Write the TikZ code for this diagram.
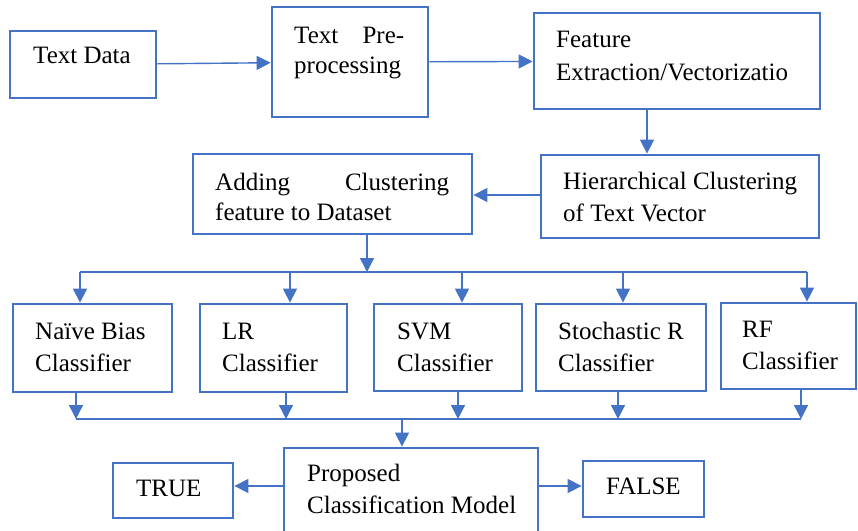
\documentclass[tikz,border=0pt]{standalone}
\usepackage{fontspec}
\setmainfont{Liberation Serif}
\usetikzlibrary{arrows.meta,fit}
\definecolor{bl}{HTML}{4472C4}
\begin{document}
\begin{tikzpicture}[x=1pt,y=-1pt,
 box/.style={draw=bl, line width=2.8pt, inner sep=0pt},
 txt/.style={anchor=base west, inner sep=0pt, align=left, font=\fontsize{25}{31.5}\selectfont},
 arr/.style={draw=bl, line width=1.4pt, -{Triangle[length=14pt,width=14pt]}},
 ln/.style={draw=bl, line width=1.4pt}]
\useasboundingbox (0,0) rectangle (858,530);
% boxes
\node[box, fit={(10,31)(156,98)}] (td) {};
\node[box, fit={(272,7)(428,117)}] (pp) {};
\node[box, fit={(534,13)(820,109)}] (fe) {};
\node[box, fit={(541,155)(819,238)}] (hc) {};
\node[box, fit={(193,154)(472,234)}] (ad) {};
\node[box, fit={(13,304)(172,392)}] (nb) {};
\node[box, fit={(200,304)(347,392)}] (lr) {};
\node[box, fit={(374,304)(522,391)}] (sv) {};
\node[box, fit={(536,304)(706,391)}] (sr) {};
\node[box, fit={(721,303)(856,389)}] (rf) {};
\node[box, fit={(284,448)(538,536)}] (pm) {};
\node[box, fit={(113,463)(233,518)}] (tr) {};
\node[box, fit={(583,461)(704,517)}] (fa) {};
% texts (base = last line)
\node[txt] (tdt) at (33,63) {Text Data};
\node[txt, font=\fontsize{25}{30}\selectfont] (ppt) at (294,73) {\makebox[110pt][s]{Text Pre-}\\processing};
\node[txt, font=\fontsize{25}{33}\selectfont] (fet) at (556,80) {Feature\\Extraction/Vectorizatio};
\node[txt] (hct) at (563,221) {Hierarchical Clustering\\of Text Vector};
\node[txt, font=\fontsize{25}{30}\selectfont] (adt) at (215,220) {\makebox[234pt][s]{Adding Clustering}\\feature to Dataset};
\node[txt, font=\fontsize{25}{32}\selectfont] (nbt) at (35,371) {Naïve Bias\\Classifier};
\node[txt, font=\fontsize{25}{32}\selectfont] (lrt) at (222,371) {LR\\Classifier};
\node[txt, font=\fontsize{25}{32}\selectfont] (svt) at (397,371) {SVM\\Classifier};
\node[txt, font=\fontsize{25}{32}\selectfont] (srt) at (558,371) {Stochastic R\\Classifier};
\node[txt, font=\fontsize{25}{32}\selectfont] (rft) at (742,369) {RF\\Classifier};
\node[txt] (pmt) at (307,513) {Proposed\\Classification Model};
\node[txt] (trt) at (136,496) {TRUE};
\node[txt] (fat) at (606,494) {FALSE};
% helper coordinates
\coordinate (c1) at (647,0);
\coordinate (c2) at (0,195);
\coordinate (c3) at (0,486);
\coordinate (bA) at (367,272);
\coordinate (b1) at (80,272);
\coordinate (b2) at (290,272);
\coordinate (b3) at (462,272);
\coordinate (b4) at (623,272);
\coordinate (b5) at (807,272);
\coordinate (l1) at (76,419);
\coordinate (l2) at (286,419);
\coordinate (l3) at (458,419);
\coordinate (l4) at (618,419);
\coordinate (l5) at (801,419);
\coordinate (lP) at (402,419);
% connectors
\draw[arr] (td) -- (pp);
\draw[arr] (pp) -- (fe);
\draw[arr] (fe.south -| c1) -- (hc.north -| c1);
\draw[arr] (hc.west |- c2) -- (ad.east |- c2);
\draw[arr] (ad.south -| bA) -- (bA);
\draw[ln] (b1) -- (b5);
\draw[arr] (b1) -- (b1 |- nb.north);
\draw[arr] (b2) -- (b2 |- lr.north);
\draw[arr] (b3) -- (b3 |- sv.north);
\draw[arr] (b4) -- (b4 |- sr.north);
\draw[arr] (b5) -- (b5 |- rf.north);
\draw[arr] (nb.south -| l1) -- (l1);
\draw[arr] (lr.south -| l2) -- (l2);
\draw[arr] (sv.south -| l3) -- (l3);
\draw[arr] (sr.south -| l4) -- (l4);
\draw[arr] (rf.south -| l5) -- (l5);
\draw[ln] (l1) -- (l5);
\draw[arr] (lP) -- (lP |- pm.north);
\draw[arr] (pm.west |- c3) -- (tr.east |- c3);
\draw[arr] (pm.east |- c3) -- (fa.west |- c3);
\end{tikzpicture}
\end{document}
